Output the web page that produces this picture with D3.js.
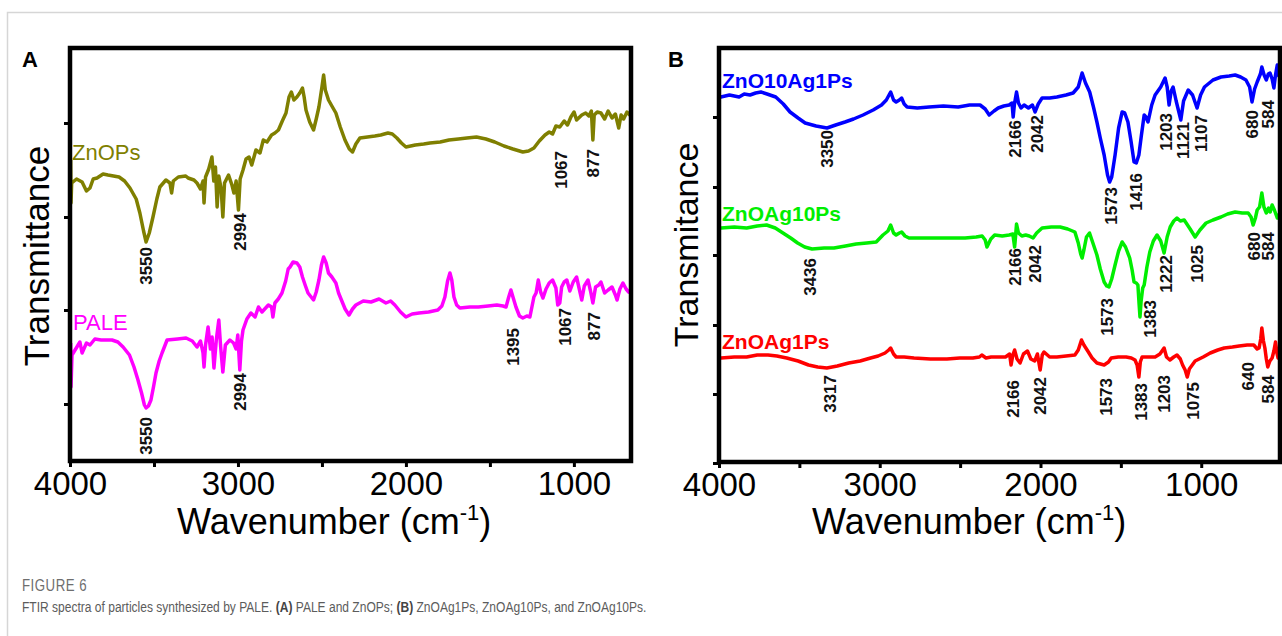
<!DOCTYPE html>
<html>
<head>
<meta charset="utf-8">
<script src="https://cdn.jsdelivr.net/npm/d3@7"></script>
<style>
  body { margin: 0; background: #fff; }
  svg { display: block; font-family: "Liberation Sans", Arial, sans-serif; }
</style>
</head>
<body>
<svg id="fig" width="1282" height="636"></svg>
<script>
// FTIR spectra: [wavenumber (cm-1), transmittance (a.u., stacked offset)]
const xTicks = [4000, 3500, 3000, 2500, 2000, 1500, 1000];
const yTicksA = [6.1, 15.5, 24.8, 34.2];
const yTicksB = [0, 6.9, 13.8, 20.8, 27.6, 34.6];

const znoPs = [
  [3996, 30.5], [3994, 26.2], [3990, 28.2], [3961, 28.6], [3928, 28.3], [3902, 27.4], [3881, 27.7],
  [3862, 28.6], [3839, 28.7], [3803, 29.1], [3774, 29.0], [3708, 28.8], [3675, 28.4], [3643, 27.7],
  [3606, 26.6], [3584, 25.2], [3562, 23.4], [3547, 22.3], [3528, 23.2], [3506, 24.8], [3483, 26.6],
  [3465, 27.8], [3429, 28.5], [3405, 28.2], [3395, 27.2], [3385, 28.4], [3355, 28.8], [3311, 28.9],
  [3297, 28.7], [3262, 28.5], [3244, 28.2], [3223, 27.6], [3208, 28.4], [3202, 26.2], [3193, 28.8],
  [3174, 29.6], [3155, 30.8], [3144, 28.4], [3134, 29.8], [3124, 25.8], [3114, 28.9], [3100, 27.6],
  [3090, 24.8], [3080, 28.2], [3056, 29.0], [3036, 28.0], [3024, 27.2], [3011, 28.4], [2997, 25.5],
  [2987, 28.6], [2970, 29.5], [2952, 30.6], [2934, 30.8], [2918, 30.0], [2893, 31.5], [2869, 31.2],
  [2849, 32.5], [2827, 32.3], [2800, 33.0], [2780, 33.2], [2759, 33.5], [2736, 34.4], [2714, 35.2],
  [2696, 36.8], [2682, 37.3], [2667, 36.5], [2649, 36.8], [2632, 37.2], [2616, 37.7], [2606, 36.8],
  [2595, 35.5], [2573, 34.3], [2550, 33.5], [2534, 34.6], [2518, 35.8], [2500, 37.8], [2490, 39.0],
  [2480, 37.5], [2461, 36.5], [2441, 35.9], [2417, 35.2], [2391, 33.8], [2363, 32.5], [2337, 31.6],
  [2318, 31.3], [2298, 32.1], [2274, 32.7], [2229, 32.8], [2185, 32.9], [2150, 33.0], [2107, 33.2],
  [2081, 33.1], [2054, 32.7], [2027, 32.2], [2000, 31.8], [1944, 32.0], [1894, 32.1], [1857, 32.2],
  [1796, 32.3], [1744, 32.5], [1688, 32.6], [1637, 32.7], [1580, 32.8], [1524, 32.6], [1471, 32.3],
  [1416, 31.9], [1363, 31.6], [1304, 31.3], [1270, 31.4], [1238, 31.7], [1206, 32.4], [1172, 33.0],
  [1147, 33.3], [1127, 33.1], [1107, 33.9], [1084, 33.8], [1058, 34.4], [1038, 34.0], [1018, 34.8],
  [999, 35.3], [984, 34.5], [953, 35.0], [930, 35.2], [911, 34.9], [896, 35.4], [887, 32.5],
  [879, 35.0], [861, 35.3], [839, 35.2], [817, 34.6], [796, 35.4], [773, 34.7], [753, 35.1],
  [733, 33.7], [719, 35.0], [704, 34.6], [684, 35.3], [667, 35.0], [657, 35.4]
];

const pale = [
  [3996, 12.2], [3994, 7.8], [3988, 11.0], [3959, 11.8], [3941, 12.3], [3928, 11.2], [3902, 12.2],
  [3881, 12.0], [3852, 12.6], [3815, 12.5], [3750, 12.5], [3715, 12.3], [3684, 11.8], [3646, 11.0],
  [3619, 9.8], [3597, 8.6], [3574, 7.2], [3557, 6.0], [3547, 5.7], [3533, 5.9], [3518, 6.5],
  [3503, 7.8], [3488, 9.2], [3469, 10.4], [3452, 11.2], [3422, 12.5], [3360, 12.6], [3309, 12.7],
  [3272, 12.4], [3244, 11.8], [3223, 12.4], [3208, 11.2], [3202, 9.8], [3193, 12.0], [3178, 13.8],
  [3164, 11.6], [3154, 12.8], [3143, 9.7], [3129, 12.5], [3114, 14.5], [3103, 11.8], [3090, 9.3],
  [3075, 12.0], [3048, 12.5], [3026, 12.2], [3011, 11.6], [3001, 13.0], [2989, 9.5], [2979, 12.4],
  [2970, 13.5], [2947, 14.6], [2923, 15.2], [2898, 14.8], [2878, 15.8], [2857, 15.3], [2819, 16.0],
  [2800, 15.8], [2792, 14.8], [2780, 16.2], [2760, 16.6], [2738, 17.2], [2716, 18.4], [2701, 19.6],
  [2690, 19.8], [2672, 20.3], [2649, 20.2], [2632, 19.8], [2616, 18.8], [2598, 17.9], [2583, 17.2],
  [2550, 16.5], [2534, 17.3], [2518, 18.5], [2503, 20.0], [2490, 20.8], [2475, 20.2], [2461, 19.2],
  [2441, 18.8], [2417, 18.2], [2401, 17.2], [2384, 16.5], [2362, 15.6], [2339, 15.0], [2318, 15.6],
  [2298, 16.0], [2254, 16.4], [2208, 16.3], [2160, 16.6], [2119, 16.2], [2091, 16.4], [2066, 16.0],
  [2032, 15.3], [2000, 14.8], [1963, 15.1], [1922, 15.2], [1865, 15.3], [1810, 15.5], [1786, 15.9],
  [1768, 16.8], [1752, 18.4], [1738, 19.2], [1727, 18.5], [1714, 16.8], [1698, 16.0], [1679, 15.7],
  [1619, 15.8], [1569, 15.8], [1511, 15.9], [1459, 16.0], [1422, 15.9], [1404, 15.8], [1388, 16.8],
  [1375, 17.5], [1361, 16.7], [1345, 15.8], [1324, 14.9], [1304, 14.7], [1280, 14.9], [1262, 14.8],
  [1250, 15.8], [1238, 16.8], [1225, 17.2], [1212, 18.5], [1198, 17.3], [1184, 16.7], [1166, 17.6],
  [1147, 18.2], [1127, 18.5], [1107, 17.7], [1096, 16.0], [1084, 16.2], [1073, 17.8], [1058, 18.3],
  [1042, 18.5], [1024, 17.4], [1004, 18.3], [984, 18.8], [968, 17.6], [953, 16.5], [938, 17.9],
  [916, 18.5], [901, 17.4], [887, 16.2], [871, 17.8], [852, 18.0], [839, 18.3], [817, 17.2],
  [796, 17.5], [773, 17.8], [753, 17.0], [743, 16.5], [726, 17.6], [708, 18.2], [689, 17.6],
  [674, 17.3], [657, 17.2]
];

const zno10Ag1Ps = [
  [3998, 36.6], [3988, 36.6], [3935, 36.8], [3875, 36.6], [3843, 36.9], [3807, 36.8], [3772, 37.0],
  [3739, 37.1], [3701, 36.9], [3647, 36.6], [3600, 35.9], [3558, 35.1], [3508, 34.5], [3464, 34.0],
  [3396, 33.7], [3328, 33.5], [3274, 33.8], [3216, 34.1], [3163, 34.4], [3104, 34.8], [3041, 35.3],
  [2989, 35.8], [2959, 36.3], [2932, 37.1], [2914, 36.3], [2898, 36.1], [2878, 36.3], [2864, 36.5],
  [2848, 35.9], [2830, 35.6], [2766, 35.5], [2693, 35.6], [2604, 35.7], [2512, 35.6], [2441, 35.8],
  [2376, 35.8], [2344, 35.4], [2319, 34.8], [2289, 35.2], [2263, 35.5], [2228, 35.7], [2195, 35.8],
  [2177, 36.0], [2170, 34.6], [2162, 35.9], [2149, 37.1], [2137, 36.0], [2121, 35.5], [2102, 35.8],
  [2075, 35.5], [2050, 35.8], [2034, 35.1], [2014, 35.9], [1990, 36.5], [1943, 36.5], [1898, 36.6],
  [1841, 36.8], [1797, 37.0], [1765, 37.6], [1741, 39.0], [1720, 38.0], [1694, 37.1], [1669, 35.5],
  [1649, 34.1], [1628, 32.5], [1604, 30.8], [1583, 28.8], [1570, 28.1], [1557, 28.6], [1536, 30.8],
  [1514, 33.5], [1492, 35.1], [1476, 35.0], [1456, 34.1], [1437, 32.2], [1418, 30.1], [1404, 30.0],
  [1388, 30.8], [1372, 32.8], [1355, 34.8], [1344, 34.6], [1331, 34.1], [1308, 35.8], [1287, 36.8],
  [1252, 37.6], [1225, 38.5], [1212, 37.6], [1200, 35.8], [1187, 37.2], [1175, 37.6], [1156, 36.2],
  [1127, 34.3], [1110, 36.2], [1081, 37.3], [1054, 36.8], [1026, 35.5], [1004, 36.8], [980, 37.6],
  [927, 38.3], [877, 38.6], [826, 38.7], [789, 38.8], [755, 38.6], [722, 38.3], [699, 37.6],
  [684, 36.1], [668, 37.4], [652, 38.1], [632, 38.9], [623, 39.6], [609, 38.8], [595, 38.3],
  [583, 38.9], [572, 39.0], [559, 38.4], [548, 37.5], [538, 38.8], [527, 39.8], [516, 38.6]
];

const znoAg10Ps = [
  [3998, 23.5], [3988, 23.5], [3905, 23.6], [3828, 23.5], [3762, 23.7], [3704, 23.8], [3650, 23.5],
  [3602, 23.0], [3554, 22.5], [3511, 22.0], [3467, 21.6], [3421, 21.4], [3346, 21.5], [3285, 21.5],
  [3213, 21.7], [3147, 21.9], [3081, 22.0], [3022, 22.1], [2980, 22.8], [2949, 23.2], [2932, 23.8],
  [2914, 23.0], [2898, 22.8], [2878, 23.0], [2864, 23.1], [2843, 22.7], [2818, 22.5], [2736, 22.5],
  [2649, 22.5], [2563, 22.5], [2469, 22.5], [2400, 22.6], [2363, 22.7], [2344, 22.3], [2333, 21.6],
  [2309, 22.4], [2285, 22.8], [2238, 22.7], [2195, 22.8], [2172, 22.9], [2161, 21.6], [2155, 22.7],
  [2149, 23.9], [2137, 23.0], [2116, 22.7], [2092, 22.8], [2070, 22.7], [2046, 22.5], [2024, 23.0],
  [1990, 23.5], [1933, 23.6], [1878, 23.6], [1831, 23.4], [1786, 23.1], [1765, 22.0], [1750, 20.9],
  [1741, 20.5], [1730, 21.3], [1714, 22.6], [1695, 23.0], [1674, 22.0], [1649, 20.8], [1628, 19.4],
  [1604, 18.1], [1588, 17.7], [1574, 17.6], [1557, 18.4], [1536, 19.8], [1514, 21.2], [1492, 22.1],
  [1471, 21.6], [1445, 20.5], [1430, 19.3], [1418, 18.1], [1404, 18.0], [1394, 17.8], [1387, 16.0],
  [1381, 14.6], [1374, 16.2], [1364, 17.5], [1355, 17.8], [1338, 19.6], [1320, 21.1], [1298, 22.2],
  [1275, 22.8], [1252, 22.2], [1231, 21.0], [1212, 22.6], [1193, 23.6], [1171, 24.2], [1151, 24.5],
  [1130, 24.2], [1106, 24.3], [1069, 23.4], [1038, 22.6], [1008, 23.3], [970, 24.0], [927, 24.3],
  [877, 24.6], [836, 24.9], [789, 25.1], [745, 25.0], [708, 25.0], [690, 24.6], [677, 23.8],
  [663, 24.5], [652, 25.3], [637, 25.6], [623, 27.0], [610, 25.6], [595, 25.0], [581, 25.5],
  [571, 25.1], [559, 25.8], [545, 25.3], [527, 24.5], [516, 24.9]
];

const znoAg1Ps = [
  [3998, 10.5], [3988, 10.5], [3905, 10.6], [3828, 10.6], [3762, 10.8], [3695, 10.8], [3640, 10.7],
  [3579, 10.5], [3508, 10.2], [3443, 9.8], [3386, 9.6], [3329, 9.5], [3264, 9.7], [3193, 10.0],
  [3122, 10.2], [3057, 10.5], [3010, 10.7], [2967, 11.0], [2944, 11.3], [2932, 11.5], [2914, 10.9],
  [2898, 10.6], [2848, 10.6], [2787, 10.5], [2685, 10.4], [2582, 10.4], [2502, 10.5], [2421, 10.5],
  [2380, 10.6], [2365, 10.8], [2339, 10.5], [2307, 10.6], [2258, 10.6], [2218, 10.6], [2192, 10.9],
  [2183, 9.8], [2172, 10.8], [2161, 11.3], [2146, 10.4], [2127, 10.0], [2106, 10.9], [2081, 11.2],
  [2060, 10.4], [2036, 10.2], [2019, 10.9], [2002, 9.3], [1989, 10.8], [1978, 11.1], [1943, 10.6],
  [1898, 10.6], [1841, 10.7], [1786, 10.8], [1765, 11.3], [1745, 12.3], [1730, 11.8], [1706, 11.2],
  [1679, 10.5], [1649, 10.0], [1604, 9.8], [1577, 10.1], [1560, 10.5], [1516, 10.6], [1467, 10.6],
  [1435, 10.5], [1412, 10.3], [1399, 9.8], [1388, 8.6], [1379, 10.1], [1368, 10.6], [1323, 10.6],
  [1287, 10.6], [1257, 10.9], [1231, 11.5], [1216, 10.6], [1195, 10.3], [1171, 10.6], [1151, 10.8],
  [1130, 10.4], [1116, 9.8], [1100, 9.3], [1087, 8.6], [1074, 9.4], [1038, 10.2], [988, 10.6],
  [944, 11.0], [897, 11.3], [857, 11.5], [806, 11.6], [764, 11.7], [714, 11.8], [673, 11.8],
  [652, 11.4], [640, 11.5], [630, 12.4], [623, 13.5], [613, 12.2], [604, 11.5], [595, 10.4],
  [586, 9.6], [573, 10.2], [559, 10.5], [548, 11.2], [538, 12.1], [529, 11.0], [522, 10.5], [513, 11.2]
];

// peak annotations: [label, wavenumber where it sits, transmittance at the top of the text]
const peaksZnOPs = [['3550', 3548, 21.8], ['2994', 2988, 25.2], ['1067', 1077, 31.4], ['877', 887, 31.6]];
const peaksPALE = [['3550', 3548, 4.8], ['2994', 2988, 9.2], ['1395', 1363, 13.7], ['1067', 1054, 15.7], ['877', 881, 15.3]];
const peaksZnO10Ag1Ps = [
  ['3350', 3328, 33.3], ['2166', 2161, 34.3], ['2042', 2024, 34.8], ['1573', 1561, 27.6], ['1416', 1408, 29.0],
  ['1203', 1218, 35.0], ['1121', 1116, 34.1], ['1107', 1003, 34.8], ['680', 683, 35.3], ['584', 584, 36.3]
];
const peaksZnOAg10Ps = [
  ['3436', 3434, 20.5], ['2166', 2161, 21.5], ['2042', 2036, 21.8], ['1573', 1585, 16.5], ['1383', 1318, 16.3],
  ['1222', 1218, 20.8], ['1025', 1026, 21.8], ['680', 673, 23.1], ['584', 584, 23.1]
];
const peaksZnOAg1Ps = [
  ['3317', 3309, 8.8], ['2166', 2170, 8.3], ['2042', 2002, 8.6], ['1573', 1592, 8.5], ['1383', 1377, 8.0],
  ['1203', 1231, 8.8], ['1075', 1050, 8.1], ['640', 708, 10.1], ['584', 584, 8.8]
];

const svg = d3.select('#fig');

// page frame
svg.append('path')
    .attr('d', 'M7.5,636V12.5H1282')
    .attr('fill', 'none')
    .attr('stroke', '#d6d6d6')
    .attr('stroke-width', 1.5);

/**
 * Draws one FTIR panel.
 * @param {Object} p panel options
 */
function drawPanel(p) {
  var g = svg.append('g');
  var x = d3.scaleLinear().domain(p.xDomain).range([p.left, p.right]);
  var y = d3.scaleLinear().domain(p.yDomain).range(p.yRange);

  var clipId = 'clip-' + p.id;
  g.append('clipPath').attr('id', clipId)
      .append('rect')
      .attr('x', p.left).attr('y', p.top)
      .attr('width', p.right - p.left).attr('height', p.bottom - p.top);

  var line = d3.line()
      .x(function(d) { return x(d[0]); })
      .y(function(d) { return y(d[1]); });

  var curves = g.append('g').attr('clip-path', 'url(#' + clipId + ')');
  p.series.forEach(function(s) {
    curves.append('path')
        .datum(s.data)
        .attr('d', line)
        .attr('fill', 'none')
        .attr('stroke', s.color)
        .attr('stroke-width', 3.5)
        .attr('stroke-linejoin', 'round');
  });

  // series names
  p.series.forEach(function(s) {
    g.append('text')
        .attr('x', s.labelX)
        .attr('y', s.labelY)
        .attr('fill', s.color)
        .attr('font-size', s.labelSize)
        .attr('font-weight', s.labelWeight)
        .text(s.name);
  });

  // peak positions, rotated
  p.series.forEach(function(s) {
    g.selectAll(null).data(s.peaks).enter().append('text')
        .attr('transform', function(d) {
          return 'translate(' + x(d[1]) + ',' + y(d[2]) + ') rotate(-90)';
        })
        .attr('dy', '0.36em')
        .attr('text-anchor', 'end')
        .attr('font-size', 17)
        .attr('font-weight', 'bold')
        .attr('fill', '#111')
        .text(function(d) { return d[0]; });
  });

  // x axis: ticks every 500, labels every 1000
  var xAxis = d3.axisBottom(x)
      .tickValues(xTicks)
      .tickSize(6)
      .tickPadding(5)
      .tickSizeOuter(0)
      .tickFormat(function(d) { return d % 1000 === 0 ? d : ''; });
  var xg = g.append('g')
      .attr('transform', 'translate(0,' + p.bottom + ')')
      .call(xAxis);
  xg.select('.domain').remove();
  xg.selectAll('.tick line').attr('stroke', '#000').attr('stroke-width', 3);
  xg.selectAll('.tick text')
      .attr('fill', '#000')
      .attr('font-size', 33)
      .attr('font-family', '"Liberation Sans", Arial, sans-serif');

  // y axis: unlabelled ticks
  var yAxis = d3.axisLeft(y).tickValues(p.yTicks).tickSize(6).tickSizeOuter(0).tickFormat('');
  var yg = g.append('g')
      .attr('transform', 'translate(' + p.left + ',0)')
      .call(yAxis);
  yg.select('.domain').remove();
  yg.selectAll('.tick line').attr('stroke', '#000').attr('stroke-width', 3);

  // frame
  g.append('rect')
      .attr('x', p.left).attr('y', p.top)
      .attr('width', p.right - p.left).attr('height', p.bottom - p.top)
      .attr('fill', 'none')
      .attr('stroke', '#000')
      .attr('stroke-width', 4.5);

  // axis titles
  var xt = g.append('text')
      .attr('x', p.xTitleX)
      .attr('y', 534)
      .attr('font-size', 36)
      .attr('fill', '#000');
  xt.append('tspan').text('Wavenumber (cm');
  xt.append('tspan').attr('font-size', 22).attr('dy', -14).text('-1');
  xt.append('tspan').attr('dy', 14).text(')');

  g.append('text')
      .attr('transform', 'translate(' + p.yTitleX + ',' + p.yTitleY + ') rotate(-90)')
      .attr('dy', '0.36em')
      .attr('text-anchor', 'middle')
      .attr('font-size', p.yTitleSize)
      .attr('fill', '#000')
      .text(p.yTitle);

  // panel letter
  g.append('text')
      .attr('x', p.letterX)
      .attr('y', 67)
      .attr('font-size', 22)
      .attr('font-weight', 'bold')
      .text(p.letter);
}

drawPanel({
  id: 'a', letter: 'A', letterX: 22,
  left: 70, right: 631, top: 48, bottom: 461,
  xDomain: [4000, 660], yDomain: [0, 41.7], yRange: [465, 48.0],
  yTicks: yTicksA,
  xTitleX: 177, yTitle: 'Transmittance', yTitleX: 36, yTitleY: 256, yTitleSize: 35,
  series: [
    {name: 'ZnOPs', data: znoPs, peaks: peaksZnOPs, color: '#7f7f00',
      labelX: 72, labelY: 160, labelSize: 22, labelWeight: 'normal'},
    {name: 'PALE', data: pale, peaks: peaksPALE, color: '#ff00ff',
      labelX: 73, labelY: 330, labelSize: 22, labelWeight: 'normal'}
  ]
});

drawPanel({
  id: 'b', letter: 'B', letterX: 668,
  left: 719, right: 1280, top: 48, bottom: 462,
  xDomain: [4000, 510], yDomain: [0, 41.5], yRange: [463, 48],
  yTicks: yTicksB,
  xTitleX: 812, yTitle: 'Transmitance', yTitleX: 686, yTitleY: 245, yTitleSize: 34,
  series: [
    {name: 'ZnO10Ag1Ps', data: zno10Ag1Ps, peaks: peaksZnO10Ag1Ps, color: '#0000ff',
      labelX: 722, labelY: 88, labelSize: 21, labelWeight: 'bold'},
    {name: 'ZnOAg10Ps', data: znoAg10Ps, peaks: peaksZnOAg10Ps, color: '#00ee00',
      labelX: 722, labelY: 221, labelSize: 21, labelWeight: 'bold'},
    {name: 'ZnOAg1Ps', data: znoAg1Ps, peaks: peaksZnOAg1Ps, color: '#ff0000',
      labelX: 722, labelY: 349, labelSize: 21, labelWeight: 'bold'}
  ]
});

// caption, in a horizontally condensed group to mimic the narrow journal face
var cap = svg.append('g')
    .attr('font-family', '"Liberation Sans", Arial, sans-serif')
    .attr('transform', 'translate(22,0) scale(0.83,1)');
cap.append('text')
    .attr('x', 0).attr('y', 591)
    .attr('font-size', 16)
    .attr('letter-spacing', 0.6)
    .attr('fill', '#6e6e6e')
    .text('FIGURE 6');
var capLine = cap.append('text')
    .attr('x', 0).attr('y', 612)
    .attr('font-size', 14.5)
    .attr('fill', '#5c5c5c');
capLine.append('tspan').text('FTIR spectra of particles synthesized by PALE. ');
capLine.append('tspan').attr('font-weight', 'bold').attr('fill', '#444').text('(A)');
capLine.append('tspan').text(' PALE and ZnOPs; ');
capLine.append('tspan').attr('font-weight', 'bold').attr('fill', '#444').text('(B)');
capLine.append('tspan').text(' ZnOAg1Ps, ZnOAg10Ps, and ZnOAg10Ps.');
</script>
</body>
</html>
